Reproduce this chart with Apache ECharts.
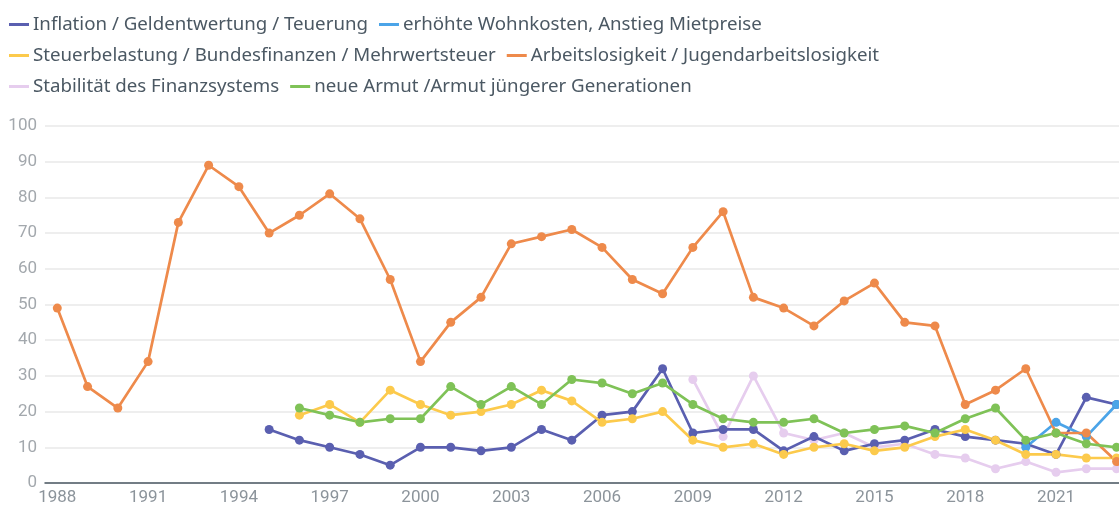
<!DOCTYPE html>
<html>
<head>
<meta charset="utf-8">
<script src="https://cdn.jsdelivr.net/npm/echarts@6/dist/echarts.min.js"></script>
<style>
	html,body{margin:0;padding:0;background:#fff;}
	#chart{width:1119px;height:511px;}
</style>
</head>
<body>
<div id="chart"></div>
<script>
// 数据
var years=[1988,1989,1990,1991,1992,1993,1994,1995,1996,1997,1998,1999,2000,2001,2002,2003,2004,2005,2006,2007,2008,2009,2010,2011,2012,2013,2014,2015,2016,2017,2018,2019,2020,2021,2022,2023];
var xTickLabels=[1988,1991,1994,1997,2000,2003,2006,2009,2012,2015,2018,2021];
var yTickLabels=[0,10,20,30,40,50,60,70,80,90,100];

// 1995-2023
var inflation=[15,12,10,8,5,10,10,9,10,15,12,19,20,32,14,15,15,9,13,9,11,12,15,13,12,11,8,24,22];
// 2020-2023
var wohnkosten=[10,17,13,22];
// 1996-2023
var steuer=[19,22,17,26,22,19,20,22,26,23,17,18,20,12,10,11,8,10,11,9,10,13,15,12,8,8,7,7];
// 1988-2023
var arbeitslos=[49,27,21,34,73,89,83,70,75,81,74,57,34,45,52,67,69,71,66,57,53,66,76,52,49,44,51,56,45,44,22,26,32,14,14,6];
// 2009-2023
var finanzsystem=[29,13,30,14,12,14,10,11,8,7,4,6,3,4,4];
// 1996-2023
var armut=[21,19,17,18,18,27,22,27,22,29,28,25,28,22,18,17,17,18,14,15,16,14,18,21,12,14,11,10];

var names=[
	'Inflation / Geldentwertung / Teuerung',
	'erhöhte Wohnkosten, Anstieg Mietpreise',
	'Steuerbelastung / Bundesfinanzen / Mehrwertsteuer',
	'Arbeitslosigkeit / Jugendarbeitslosigkeit',
	'Stabilität des Finanzsystems',
	'neue Armut /Armut jüngerer Generationen'
];
var colors=['#5a5fb0','#4ba4e8','#fcca4c','#ee8a4b','#e6cdee','#7fc257'];

// 年份+数值配对
function pairs(startYear,values){
	var out=[];
	for(var i=0;i<values.length;i++){
		out.push([startYear+i,values[i]]);
	}
	return out;
}

var seriesData=[
	pairs(1995,inflation),
	pairs(2020,wohnkosten),
	pairs(1996,steuer),
	pairs(1988,arbeitslos),
	pairs(2009,finanzsystem),
	pairs(1996,armut)
];

var fontFamily='Roboto, "Noto Sans", sans-serif';
var legendFont='"Noto Sans", Roboto, sans-serif';

function legendRow(top,items){
	return {
		top:top,
		left:4,
		data:items,
		icon:'rect',
		itemWidth:20,
		itemHeight:3,
		itemGap:11,
		selectedMode:false,
		textStyle:{
			color:'#4b5863',
			fontSize:18.7,
			fontFamily:legendFont,
			padding:[0,0,0,-1]
		}
	};
}

var series=[];
for(var i=0;i<seriesData.length;i++){
	series.push({
		type:'line',
		name:names[i],
		data:seriesData[i],
		symbol:'circle',
		symbolSize:9,
		showSymbol:true,
		lineStyle:{width:2.7,color:colors[i]},
		itemStyle:{color:colors[i]},
		z:i==4 ? 1 : 2,
		animation:false
	});
}

var chart=echarts.init(document.getElementById('chart'));
var option={
	color:colors,
	animation:false,
	legend:[
		legendRow(10,[names[0],names[1]]),
		legendRow(41,[names[2],names[3]]),
		legendRow(72,[names[4],names[5]])
	],
	grid:{
		left:45,
		right:0,
		top:126,
		bottom:28,
		containLabel:false
	},
	xAxis:{
		type:'value',
		min:1987.594,
		max:2023.08,
		axisLine:{show:true,lineStyle:{color:'#4b5863',width:1.5}},
		axisTick:{show:false},
		splitLine:{show:false},
		axisLabel:{
			customValues:xTickLabels,
			color:'#8c949b',
			fontSize:17,
			fontFamily:fontFamily,
			margin:6,
			formatter:function(v){return String(v);}
		}
	},
	yAxis:{
		type:'value',
		min:0,
		max:100,
		interval:10,
		axisLine:{show:false},
		axisTick:{show:false},
		splitLine:{lineStyle:{color:'#e9e9e9',width:1.5}},
		axisLabel:{
			color:'#a3a8ad',
			fontSize:17,
			fontFamily:fontFamily,
			margin:8
		}
	},
	series:series
};
chart.setOption(option);
</script>
</body>
</html>
